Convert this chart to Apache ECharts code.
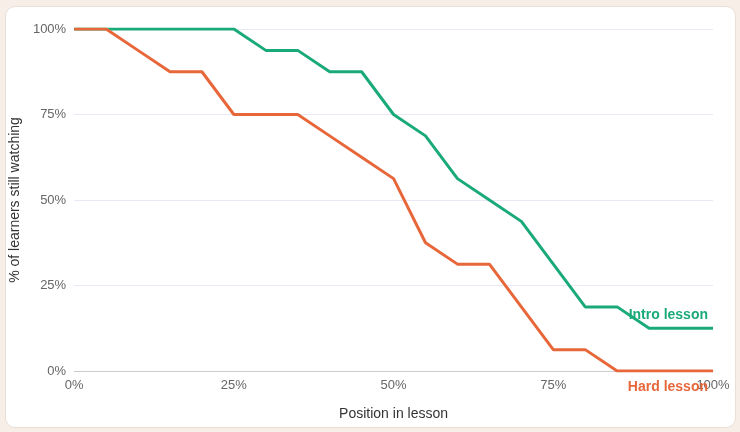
<!DOCTYPE html>
<html><head><meta charset="utf-8">
<script src="https://cdn.jsdelivr.net/npm/echarts@6/dist/echarts.min.js"></script>
<style>
html,body{margin:0;padding:0;background:#f7eee8;}
#card{position:absolute;left:5px;top:6px;width:729px;height:420px;background:#fff;border-radius:10px;border:1px solid #eadfd8;}
#c{position:absolute;left:0;top:0;width:740px;height:432px;}
</style></head><body>
<div id="card"></div><div id="c"></div>
<script>
const positions=[0,5,10,15,20,25,30,35,40,45,50,55,60,65,70,75,80,85,90,95,100];
const intro=[100,100,100,100,100,100,93.75,93.75,87.5,87.5,75,68.75,56.25,50,43.75,31.25,18.75,18.75,12.5,12.5,12.5];
const hard=[100,100,93.75,87.5,87.5,75,75,75,68.75,62.5,56.25,37.5,31.25,31.25,18.75,6.25,6.25,0,0,0,0];
const c=echarts.init(document.getElementById('c'));
const mk=(name,data,color,off)=>({type:'line',name,data:positions.map((p,i)=>[p,data[i]]),symbol:'none',
 lineStyle:{color,width:3},itemStyle:{color},
 endLabel:{show:true,formatter:name,color,fontWeight:'bold',fontSize:14,fontFamily:'Liberation Sans, Arial',align:'right',offset:off}});
c.setOption({
 animation:false,
 grid:{left:74,right:27,top:29,bottom:61},
 xAxis:{type:'value',min:0,max:100,interval:25,name:'Position in lesson',nameLocation:'middle',nameGap:36,
  nameTextStyle:{color:'#333',fontSize:14},
  axisLabel:{formatter:'{value}%',color:'#666',fontSize:13},
  axisLine:{lineStyle:{color:'#ccc'}},axisTick:{show:false},splitLine:{show:false}},
 yAxis:{type:'value',min:0,max:100,interval:25,name:'% of learners still watching',nameLocation:'middle',nameGap:46,
  nameTextStyle:{color:'#333',fontSize:14,padding:[0,0,-16,0]},
  axisLabel:{formatter:'{value}%',color:'#666',fontSize:13},
  axisLine:{show:false},axisTick:{show:false},splitLine:{lineStyle:{color:'#e8e8f4'}}},
 series:[mk('Intro lesson',intro,'#1aaa7a',[-13,-13]),mk('Hard lesson',hard,'#e8673a',[-13,16])]
});
</script></body></html>
